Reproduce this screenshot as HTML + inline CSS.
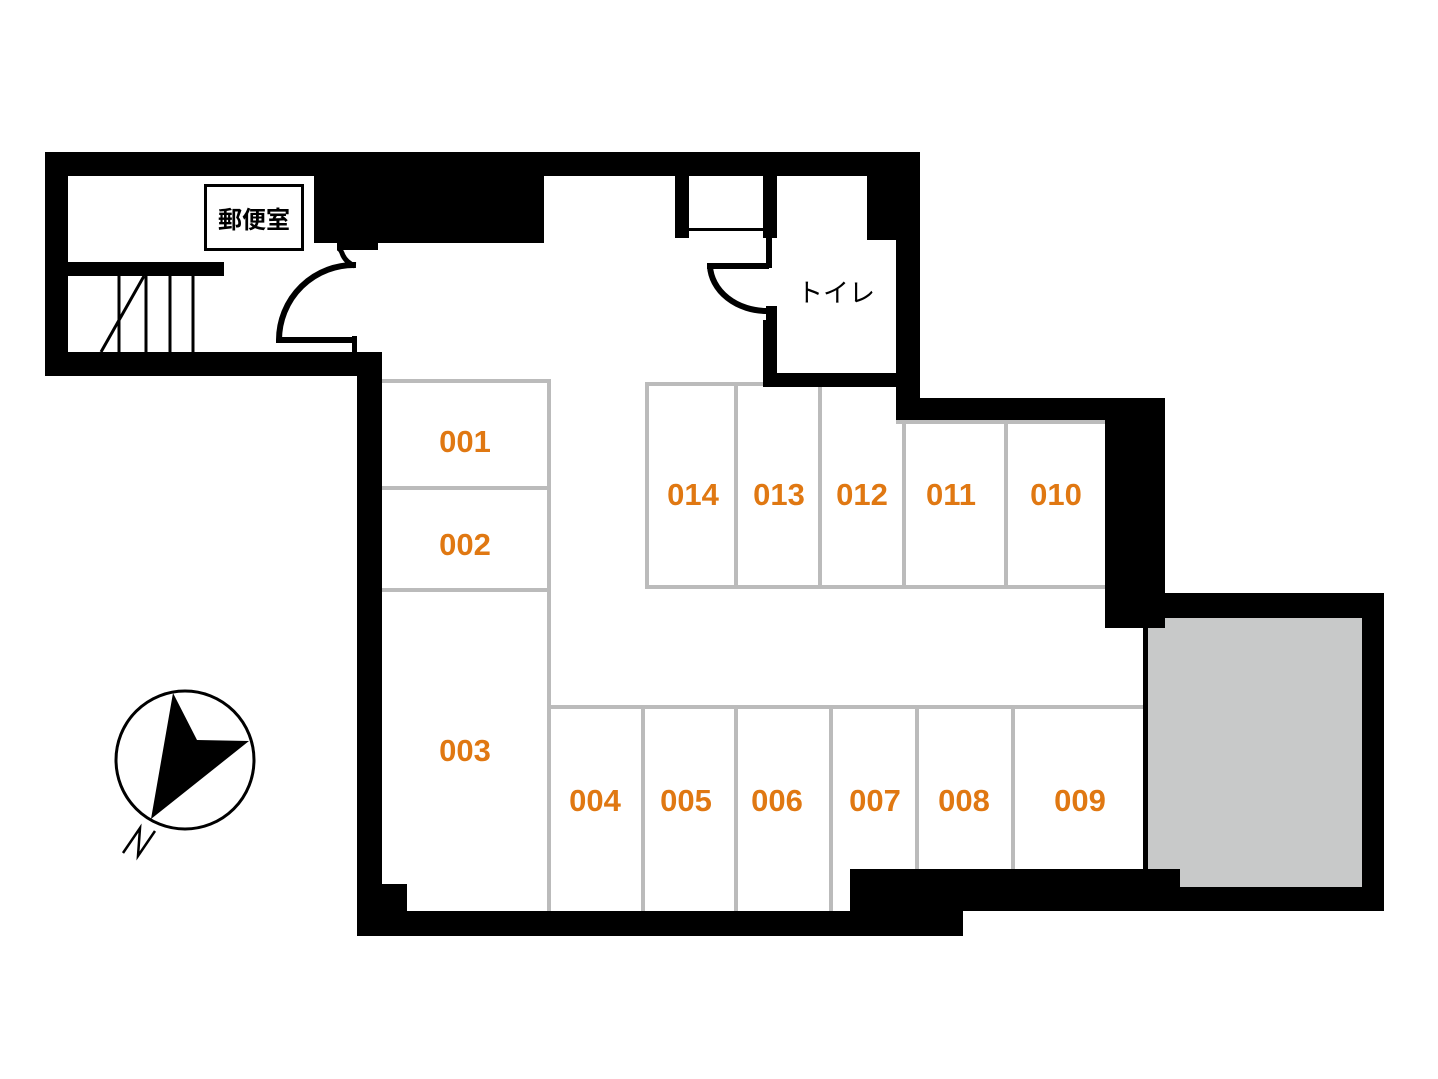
<!DOCTYPE html>
<html><head><meta charset="utf-8"><style>
html,body{margin:0;padding:0;background:#fff;}
svg{display:block;}
.n{font-family:"Liberation Sans","DejaVu Sans",sans-serif;font-weight:bold;font-size:31px;fill:#e07812;text-anchor:middle;}
</style></head><body>
<svg width="1438" height="1079" viewBox="0 0 1438 1079" xmlns="http://www.w3.org/2000/svg">
<rect width="1438" height="1079" fill="#fff"/>
<!-- gray room -->
<rect x="1145" y="615" width="220" height="275" fill="#c8c9c9"/>
<!-- locker lines -->
<g stroke="#bbbbbb" stroke-width="4" fill="none">
<path d="M382 381 H549 V911 M382 488 H547 M382 590 H547"/>
<path d="M763 384 H647 V587 H1105 M896 422 H1105 M736 384 V587 M820 384 V587 M904 420 V587 M1006 420 V587"/>
<path d="M549 707 H1143 M643 707 V911 M736 707 V911 M831 707 V911 M917 707 V869 M1013 707 V869"/>
</g>
<g fill="#000">
<!-- top-left section -->
<rect x="45" y="152" width="875" height="24"/>
<rect x="45" y="152" width="23" height="224"/>
<rect x="45" y="352" width="337" height="24"/>
<rect x="314" y="152" width="230" height="91"/>
<rect x="337" y="240" width="41" height="10"/>
<rect x="68" y="262" width="156" height="14"/>
<!-- left wall of main -->
<rect x="357" y="352" width="25" height="584"/>
<rect x="357" y="884" width="50" height="27"/>
<rect x="357" y="911" width="606" height="25"/>
<!-- bottom right -->
<rect x="850" y="869" width="330" height="42"/>
<rect x="850" y="887" width="534" height="24"/>
<rect x="1362" y="593" width="22" height="318"/>
<rect x="1143" y="593" width="241" height="25"/>
<rect x="1143" y="593" width="5" height="276"/>
<!-- right walls -->
<rect x="896" y="152" width="24" height="268"/>
<rect x="867" y="152" width="29" height="88"/>
<rect x="896" y="398" width="269" height="22"/>
<rect x="1105" y="398" width="60" height="230"/>
<rect x="1105" y="598" width="43" height="30"/>
<!-- toilet -->
<rect x="763" y="176" width="14" height="62"/>
<rect x="766" y="238" width="6" height="30"/>
<rect x="766" y="306" width="11" height="16"/>
<rect x="763" y="320" width="14" height="67"/>
<rect x="763" y="373" width="133" height="14"/>
<rect x="675" y="176" width="14" height="62"/>
<rect x="689" y="228" width="74" height="3"/>
<rect x="707" y="263" width="62" height="6"/>
<!-- mail door jamb -->
<rect x="352" y="336" width="5" height="16"/>
</g>
<!-- toilet door arc -->
<path d="M710 266 A57 47 0 0 0 767 311" fill="none" stroke="#000" stroke-width="6"/>
<!-- entry door -->
<path d="M355 266 Q345 262 342 253 Q340 248 337 248" fill="none" stroke="#000" stroke-width="5"/>
<path d="M356 265 A75 75 0 0 0 279 340 H355" fill="none" stroke="#000" stroke-width="6"/>
<!-- stairs -->
<g stroke="#000" stroke-width="3">
<line x1="119" y1="276" x2="119" y2="352"/>
<line x1="146" y1="276" x2="146" y2="352"/>
<line x1="170" y1="276" x2="170" y2="352"/>
<line x1="193" y1="276" x2="193" y2="352"/>
<line x1="101" y1="352" x2="144" y2="276"/>
</g>
<!-- mail room -->
<rect x="205.5" y="185.5" width="97" height="64" fill="#fff" stroke="#000" stroke-width="3"/>
<text x="254" y="228" font-family="'Liberation Sans','Noto Sans CJK JP',sans-serif" font-weight="bold" font-size="24" text-anchor="middle">郵便室</text>
<text x="836" y="302" font-family="'Liberation Sans','Noto Sans CJK JP',sans-serif" font-size="26" text-anchor="middle">トイレ</text>
<!-- labels -->
<text class="n" x="465" y="452">001</text>
<text class="n" x="465" y="555">002</text>
<text class="n" x="465" y="761">003</text>
<text class="n" x="693" y="505">014</text>
<text class="n" x="779" y="505">013</text>
<text class="n" x="862" y="505">012</text>
<text class="n" x="951" y="505">011</text>
<text class="n" x="1056" y="505">010</text>
<text class="n" x="595" y="811">004</text>
<text class="n" x="686" y="811">005</text>
<text class="n" x="777" y="811">006</text>
<text class="n" x="875" y="811">007</text>
<text class="n" x="964" y="811">008</text>
<text class="n" x="1080" y="811">009</text>
<!-- compass -->
<circle cx="185" cy="760" r="69" fill="none" stroke="#000" stroke-width="3"/>
<polygon points="173,693 197,740 249,741 151,819" fill="#000"/>
<path d="M123 853 L140 828 L138 856 L155 831" fill="none" stroke="#000" stroke-width="2.5"/>
</svg>
</body></html>
